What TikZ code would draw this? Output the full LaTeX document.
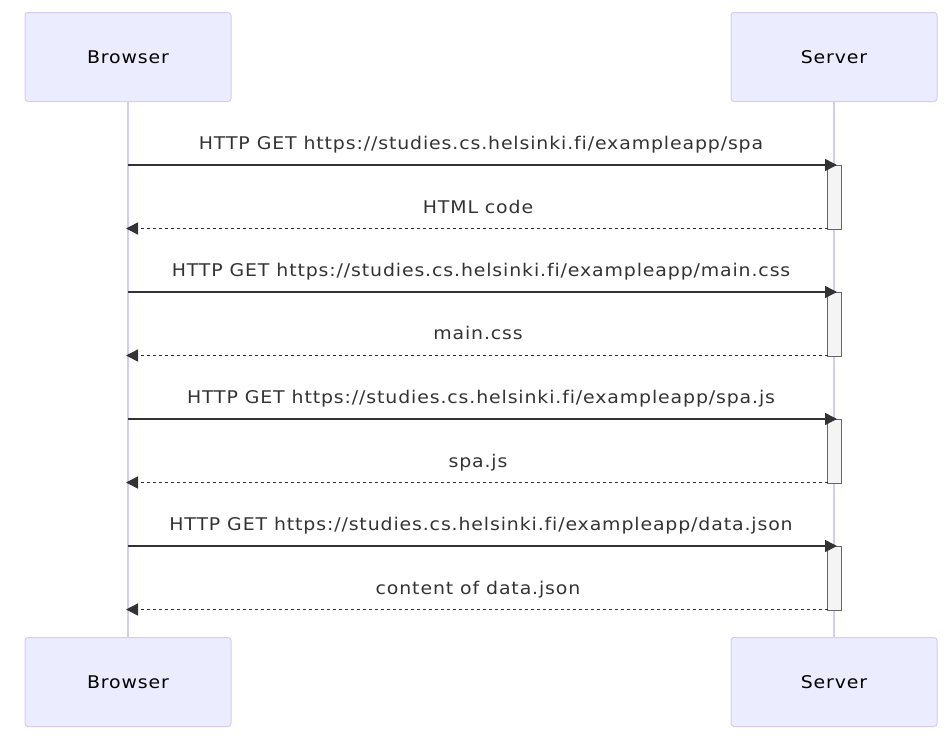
\documentclass[tikz,border=0pt]{standalone}
\usepackage{fontspec}
\setmainfont[Ligatures={NoCommon},LetterSpace=5,FakeStretch=1.08]{DejaVu Sans}
\usetikzlibrary{arrows.meta}
\definecolor{actfill}{HTML}{ECECFF}
\definecolor{actline}{HTML}{D6CCF2}
\definecolor{txt}{HTML}{333333}
\definecolor{actvfill}{HTML}{F4F4F4}
\definecolor{actvline}{HTML}{666666}
\tikzset{
  actor/.style={draw=actline, fill=actfill, line width=1pt, rounded corners=3pt,
    minimum width=206pt, minimum height=89pt, inner sep=0pt, text=black,
    font=\fontsize{17.5}{20}\selectfont},
  life/.style={draw=actline, line width=2pt},
  msg/.style={draw=txt, line width=1.5pt, -{Triangle[length=12pt,width=12pt]}},
  ret/.style={msg, dash pattern=on 3pt off 3pt},
  lbl/.style={text=txt, font=\fontsize{17.5}{20}\selectfont, inner sep=0pt, anchor=base},
  actv/.style={draw=actvline, fill=actvfill, line width=1pt}
}
\begin{document}
\begin{tikzpicture}[x=1pt,y=-1pt]
\useasboundingbox (0,0) rectangle (950,747);
% lifelines
\coordinate (bt) at (128,101);
\coordinate (bb) at (128,637);
\coordinate (st) at (834,101);
\coordinate (sb) at (834,637);
\draw[life] (bt) -- (bb);
\draw[life] (st) -- (sb);
% actors
\node[actor] (b1) at (128,57) {Browser};
\node[actor] (s1) at (834,57) {Server};
\node[actor] (b2) at (128,682) {Browser};
\node[actor] (s2) at (834,682) {Server};
% activations
\foreach \t/\n in {165/1,292/2,419/3,546/4}{
  \draw[actv] (827.5,\t) rectangle (841.5,\t+64);
}
% messages
\foreach \y/\n in {165/1,292/2,419/3,546/4}{
  \coordinate (ms\n) at (128,\y);
  \coordinate (me\n) at (837,\y);
  \coordinate (rs\n) at (827.5,\y+63.5);
  \coordinate (re\n) at (126,\y+63.5);
}
\draw[msg] (ms1) -- (me1);
\draw[ret] (rs1) -- (re1);
\draw[msg] (ms2) -- (me2);
\draw[ret] (rs2) -- (re2);
\draw[msg] (ms3) -- (me3);
\draw[ret] (rs3) -- (re3);
\draw[msg] (ms4) -- (me4);
\draw[ret] (rs4) -- (re4);
% labels
\node[lbl] (l1) at (481,149.5) {HTTP GET https://studies.cs.helsinki.fi/exampleapp/spa};
\node[lbl] (l2) at (478,213.5) {HTML code};
\node[lbl] (l3) at (481,276.5) {HTTP GET https://studies.cs.helsinki.fi/exampleapp/main.css};
\node[lbl] (l4) at (478,339.5) {main.css};
\node[lbl] (l5) at (481,403.5) {HTTP GET https://studies.cs.helsinki.fi/exampleapp/spa.js};
\node[lbl] (l6) at (478,467.5) {spa.js};
\node[lbl] (l7) at (481,530.5) {HTTP GET https://studies.cs.helsinki.fi/exampleapp/data.json};
\node[lbl] (l8) at (478,594.5) {content of data.json};
\end{tikzpicture}
\end{document}
